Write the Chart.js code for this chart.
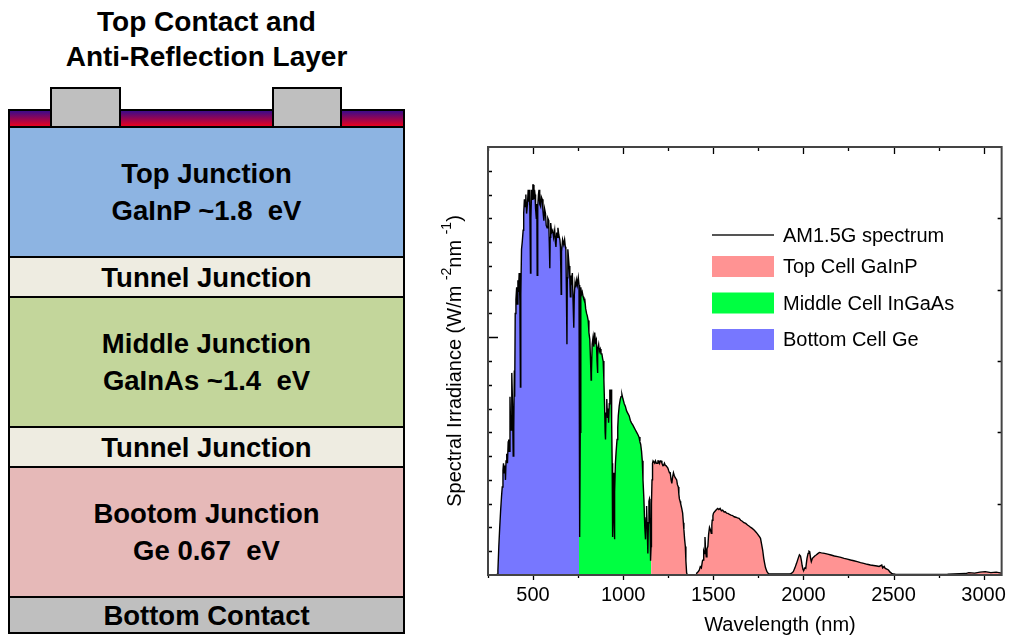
<!DOCTYPE html>
<html lang="en">
<head>
<meta charset="UTF-8">
<title>Triple-junction cell and AM1.5G spectrum</title>
<script src="https://cdn.jsdelivr.net/npm/chart.js"></script>
<style>
  body { margin: 0; width: 1014px; height: 636px; position: relative; background: #fff; overflow: hidden;
         font-family: "Liberation Sans", Arial, sans-serif; color: #000; }
  .cap { position: absolute; left: 8px; width: 397px; top: 4px; text-align: center;
         font-weight: bold; font-size: 28px; line-height: 35px; }
  .layer { position: absolute; left: 8px; width: 397px; box-sizing: border-box; border: 2px solid #000;
           display: flex; flex-direction: column; align-items: center; justify-content: center;
           font-weight: bold; font-size: 27.5px; line-height: 37px; white-space: pre; }
  .ar { top: 109px; height: 19px; background: linear-gradient(#3c0a8a, #e8001e); }
  .contact { position: absolute; top: 87px; height: 41px; box-sizing: border-box;
             border: 2px solid #000; background: #bfbfbf; }
  #chartBox { position: absolute; left: 430px; top: 125px; width: 584px; height: 511px; }
</style>
</head>
<body>
  <div class="cap">Top Contact and<br>Anti-Reflection Layer</div>

  <div class="layer ar"></div>
  <div class="contact" style="left:50px; width:71px;"></div>
  <div class="contact" style="left:272px; width:70px;"></div>

  <div class="layer" style="top:126px; height:132px; background:#8db4e2;"><div>Top Junction</div><div>GaInP ~1.8  eV</div></div>
  <div class="layer" style="top:256px; height:42px; background:#eeece1;"><div>Tunnel Junction</div></div>
  <div class="layer" style="top:296px; height:132px; background:#c3d69b;"><div>Middle Junction</div><div>GaInAs ~1.4  eV</div></div>
  <div class="layer" style="top:426px; height:42px; background:#eeece1;"><div>Tunnel Junction</div></div>
  <div class="layer" style="top:466px; height:132px; background:#e6b9b8;"><div>Bootom Junction</div><div>Ge 0.67  eV</div></div>
  <div class="layer" style="top:596px; height:38px; background:#bfbfbf;"><div>Bottom Contact</div></div>

  <div id="chartBox"><canvas id="spectrum" width="584" height="511"></canvas></div>

<script>
// AM1.5G spectral irradiance, W/m^2/nm
const wavelengthNm = [
  250, 290, 300, 305, 310, 315, 320, 325, 329, 333,
  336, 340, 344, 347, 350, 354, 358, 362, 365, 368,
  372, 375, 378, 381, 383, 386, 390, 393, 396, 398,
  401, 405, 409, 412, 416, 419, 423, 427, 430, 432,
  436, 440, 445, 448, 452, 456, 460, 464, 469, 473,
  476, 478, 482, 486, 488, 492, 496, 499, 502, 505,
  508, 511, 514, 518, 521, 523, 526, 530, 533, 537,
  542, 546, 551, 555, 560, 564, 569, 573, 578, 582,
  587, 590, 593, 595, 598, 603, 609, 614, 620, 624,
  627, 631, 634, 638, 643, 649, 652, 656, 658, 664,
  670, 675, 679, 682, 685, 688, 690, 693, 697, 700,
  704, 707, 710, 714, 718, 722, 726, 729, 733, 737,
  742, 746, 751, 755, 757, 759, 760, 762, 764, 766,
  769, 773, 778, 782, 787, 792, 797, 801, 806, 810,
  815, 819, 822, 824, 828, 833, 837, 842, 846, 851,
  855, 857, 860, 864, 868, 873, 877, 882, 886, 889,
  893, 897, 900, 902, 905, 909, 913, 917, 919, 923,
  926, 930, 933, 936, 939, 941, 942, 945, 948, 950,
  951, 954, 957, 961, 966, 970, 973, 978, 984, 988,
  993, 999, 1006, 1012, 1019, 1026, 1033, 1040, 1046, 1054,
  1061, 1068, 1075, 1082, 1088, 1093, 1097, 1102, 1106, 1110,
  1115, 1120, 1124, 1127, 1130, 1134, 1137, 1140, 1143, 1146,
  1148, 1150, 1152, 1155, 1157, 1160, 1163, 1166, 1170, 1175,
  1179, 1184, 1188, 1193, 1197, 1202, 1206, 1210, 1215, 1220,
  1224, 1229, 1234, 1238, 1243, 1248, 1252, 1257, 1261, 1266,
  1270, 1274, 1279, 1283, 1288, 1292, 1297, 1301, 1306, 1309,
  1312, 1316, 1319, 1325, 1330, 1334, 1337, 1341, 1345, 1348,
  1352, 1356, 1405, 1410, 1416, 1422, 1428, 1434, 1440, 1443,
  1447, 1451, 1454, 1457, 1461, 1465, 1470, 1474, 1479, 1484,
  1489, 1492, 1494, 1498, 1501, 1506, 1512, 1518, 1525, 1531,
  1538, 1545, 1552, 1560, 1567, 1574, 1581, 1590, 1598, 1607,
  1616, 1625, 1634, 1643, 1652, 1661, 1670, 1680, 1690, 1700,
  1708, 1716, 1725, 1734, 1743, 1750, 1757, 1762, 1768, 1774,
  1780, 1785, 1790, 1798, 1806, 1816, 1926, 1935, 1944, 1953,
  1962, 1971, 1978, 1984, 1989, 1993, 1998, 2002, 2008, 2013,
  2020, 2026, 2031, 2035, 2040, 2044, 2050, 2059, 2066, 2071,
  2080, 2089, 2100, 2117, 2135, 2153, 2172, 2190, 2208, 2226,
  2244, 2262, 2280, 2299, 2317, 2335, 2354, 2372, 2390, 2408,
  2420, 2435, 2440, 2448, 2454, 2463, 2472, 2481, 2490, 2500,
  2510, 2600, 2700, 2800, 2900, 2918, 2950, 2980, 3009, 3040,
  3070, 3100
];
const irradiance = [
  0, 0, 0.002, 0.02, 0.12, 0.2, 0.27, 0.33, 0.37, 0.44,
  0.47, 0.43, 0.46, 0.40, 0.48, 0.51, 0.47, 0.56, 0.57, 0.52,
  0.75, 0.64, 0.61, 0.78, 0.85, 0.72, 0.50, 0.62, 0.86, 0.75,
  1.10, 1.16, 1.21, 1.14, 1.24, 1.19, 1.27, 1.15, 0.79, 1.18,
  1.37, 1.40, 1.45, 1.52, 1.58, 1.55, 1.60, 1.52, 1.56, 1.62,
  1.57, 1.62, 1.55, 1.27, 1.50, 1.62, 1.58, 1.64, 1.64, 1.58,
  1.62, 1.60, 1.54, 1.50, 1.56, 1.26, 1.55, 1.60, 1.62, 1.56,
  1.55, 1.59, 1.58, 1.53, 1.49, 1.54, 1.52, 1.47, 1.46, 1.50,
  1.49, 1.40, 1.29, 1.42, 1.48, 1.44, 1.45, 1.42, 1.45, 1.40,
  1.38, 1.44, 1.42, 1.46, 1.43, 1.41, 1.38, 1.18, 1.36, 1.41,
  1.39, 1.41, 1.38, 1.37, 1.20, 0.97, 1.25, 1.37, 1.33, 1.30,
  1.25, 1.17, 1.26, 1.24, 1.27, 1.15, 1.04, 1.18, 1.23, 1.21,
  1.24, 1.22, 1.25, 1.22, 1.21, 0.40, 0.16, 0.60, 1.10, 1.21,
  1.18, 1.19, 1.17, 1.16, 1.16, 1.12, 1.10, 1.09, 1.07, 1.02,
  0.99, 0.90, 0.82, 0.85, 0.97, 1.00, 0.96, 1.02, 0.98, 0.99,
  0.90, 0.85, 0.95, 0.97, 0.94, 0.95, 0.93, 0.93, 0.91, 0.90,
  0.82, 0.71, 0.60, 0.57, 0.68, 0.74, 0.66, 0.70, 0.64, 0.72,
  0.78, 0.76, 0.78, 0.65, 0.47, 0.25, 0.16, 0.30, 0.43, 0.25,
  0.15, 0.35, 0.47, 0.52, 0.57, 0.62, 0.67, 0.71, 0.74, 0.75,
  0.76, 0.74, 0.72, 0.71, 0.69, 0.68, 0.67, 0.65, 0.64, 0.63,
  0.62, 0.61, 0.60, 0.59, 0.58, 0.56, 0.55, 0.52, 0.48, 0.40,
  0.32, 0.20, 0.15, 0.24, 0.29, 0.18, 0.09, 0.22, 0.31, 0.32,
  0.31, 0.18, 0.06, 0.12, 0.30, 0.40, 0.47, 0.48, 0.48, 0.47,
  0.48, 0.47, 0.47, 0.48, 0.48, 0.47, 0.48, 0.48, 0.47, 0.46,
  0.46, 0.47, 0.46, 0.46, 0.46, 0.45, 0.44, 0.43, 0.43, 0.40,
  0.385, 0.41, 0.43, 0.42, 0.41, 0.41, 0.40, 0.38, 0.37, 0.34,
  0.32, 0.31, 0.30, 0.28, 0.26, 0.22, 0.19, 0.15, 0.12, 0.06,
  0.01, 0, 0, 0.01, 0.014, 0.02, 0.035, 0.03, 0.06, 0.063,
  0.10, 0.09, 0.16, 0.11, 0.077, 0.11, 0.12, 0.17, 0.20, 0.19,
  0.175, 0.21, 0.23, 0.25, 0.26, 0.265, 0.27, 0.275, 0.28, 0.275,
  0.28, 0.27, 0.273, 0.265, 0.266, 0.26, 0.259, 0.255, 0.252, 0.25,
  0.245, 0.243, 0.24, 0.238, 0.23, 0.226, 0.22, 0.217, 0.21, 0.205,
  0.2, 0.196, 0.19, 0.183, 0.175, 0.168, 0.16, 0.154, 0.13, 0.105,
  0.07, 0.049, 0.03, 0.014, 0.006, 0.004, 0.004, 0.008, 0.014, 0.03,
  0.049, 0.07, 0.085, 0.08, 0.06, 0.04, 0.022, 0.021, 0.03, 0.028,
  0.07, 0.091, 0.1, 0.098, 0.07, 0.056, 0.07, 0.077, 0.082, 0.084,
  0.09, 0.095, 0.093, 0.091, 0.088, 0.084, 0.08, 0.077, 0.074, 0.07,
  0.067, 0.063, 0.06, 0.056, 0.052, 0.049, 0.045, 0.042, 0.04, 0.038,
  0.036, 0.042, 0.03, 0.036, 0.028, 0.025, 0.021, 0.012, 0.007, 0.004,
  0.003, 0.002, 0.002, 0.003, 0.006, 0.01, 0.008, 0.012, 0.014, 0.01,
  0.012, 0.008
];

// absorption bands (nm) with their legend labels and fill colours
const bandLabels = ['Top Cell GaInP', 'Middle Cell InGaAs', 'Bottom Cell Ge'];
const bandColors = ['#ff9393', '#00ff41', '#7777ff'];
const bandFrom = [1155, 755, 250];
const bandTo = [3100, 1155, 755];

const xLabelTicks = [500, 1000, 1500, 2000, 2500, 3000];
const xMinorTicks = [250, 750, 1250, 1750, 2250, 2750];
const yLeftTicks = [0.1, 0.2, 0.3, 0.4, 0.5, 0.6, 0.7, 0.8, 0.9, 1.0, 1.1, 1.2, 1.3, 1.4, 1.5, 1.6, 1.7];
const yLeftMajor = [1.0];
const yRightTicks = [0.3, 0.6, 0.9, 1.2, 1.5];

const points = wavelengthNm.map((w, i) => ({ x: w, y: irradiance[i] }));

const datasets = [{
  label: 'AM1.5G spectrum',
  data: points,
  borderColor: '#000',
  borderWidth: 1.4,
  pointRadius: 0,
  fill: false
}];
bandLabels.forEach((label, i) => {
  datasets.push({
    label: label,
    data: points.filter(p => p.x >= bandFrom[i] && p.x <= bandTo[i]),
    backgroundColor: bandColors[i],
    borderWidth: 0,
    pointRadius: 0,
    fill: 'origin'
  });
});

const FONT = '"Liberation Sans", Arial, sans-serif';

// frame, inward ticks and both axis titles
const framePlugin = {
  id: 'frame',
  afterDraw(chart) {
    const { ctx, chartArea: a, scales: { x, y } } = chart;
    ctx.save();
    ctx.strokeStyle = '#000';
    ctx.lineWidth = 1.3;
    ctx.beginPath();
    xLabelTicks.concat(xMinorTicks).forEach(w => {
      const px = Math.round(x.getPixelForValue(w)) + 0.5;
      const major = xLabelTicks.includes(w);
      ctx.moveTo(px, a.top); ctx.lineTo(px, a.top + (major ? 7 : 4));
      ctx.moveTo(px, a.bottom); ctx.lineTo(px, a.bottom + (major ? 5 : 3));
    });
    yLeftTicks.forEach(v => {
      const py = Math.round(y.getPixelForValue(v)) + 0.5;
      ctx.moveTo(a.left, py); ctx.lineTo(a.left + (yLeftMajor.includes(v) ? 10 : 4), py);
    });
    yRightTicks.forEach(v => {
      const py = Math.round(y.getPixelForValue(v)) + 0.5;
      ctx.moveTo(a.right, py); ctx.lineTo(a.right - 4, py);
    });
    ctx.stroke();

    ctx.strokeStyle = '#444';
    ctx.lineWidth = 2;
    ctx.strokeRect(a.left, a.top, a.right - a.left, a.bottom - a.top);

    ctx.fillStyle = '#000';
    ctx.textBaseline = 'middle';

    // x title, sits right of the plot centre
    ctx.font = '20px ' + FONT;
    ctx.textAlign = 'center';
    ctx.fillText('Wavelength (nm)', a.left + 292, a.bottom + 50);

    // y title with superscript exponents
    ctx.textAlign = 'left';
    const parts = [['Spectral Irradiance (W/m ', 20, 0], ['-2', 14, -8], ['nm ', 20, 0], ['-1', 14, -8], [')', 20, 0]];
    let total = 0;
    parts.forEach(p => { ctx.font = p[1] + 'px ' + FONT; total += ctx.measureText(p[0]).width; });
    ctx.translate(a.left - 33, (a.top + a.bottom) / 2);
    ctx.rotate(-Math.PI / 2);
    let cx = -total / 2;
    parts.forEach(p => {
      ctx.font = p[1] + 'px ' + FONT;
      ctx.fillText(p[0], cx, p[2]);
      cx += ctx.measureText(p[0]).width;
    });
    ctx.restore();
  }
};

// legend inside the plot area
const legendPlugin = {
  id: 'insideLegend',
  afterDatasetsDraw(chart) {
    const { ctx, chartArea: a } = chart;
    const x0 = a.left + 224, w = 62;
    const rows = [88, 119.5, 156, 192.5];
    ctx.save();
    ctx.font = '20px ' + FONT;
    ctx.textBaseline = 'middle';
    chart.data.datasets.forEach((ds, i) => {
      const yc = a.top + rows[i];
      if (i === 0) {
        ctx.strokeStyle = '#555';
        ctx.lineWidth = 2;
        ctx.beginPath(); ctx.moveTo(x0, yc); ctx.lineTo(x0 + w, yc); ctx.stroke();
      } else {
        ctx.fillStyle = ds.backgroundColor;
        ctx.fillRect(x0, yc - 10.5, w, 21);
      }
      ctx.fillStyle = '#000';
      ctx.fillText(ds.label, x0 + w + 9, yc + 1);
    });
    ctx.restore();
  }
};

new Chart(document.getElementById('spectrum'), {
  type: 'line',
  data: { datasets: datasets },
  options: {
    responsive: false,
    animation: false,
    events: [],
    layout: { padding: { top: 22, right: 4, left: 0, bottom: 0 } },
    plugins: { legend: { display: false }, tooltip: { enabled: false } },
    elements: { line: { tension: 0 } },
    scales: {
      x: {
        type: 'linear',
        min: 250,
        max: 3100,
        grid: { display: false, drawTicks: false },
        border: { display: false },
        afterBuildTicks: s => { s.ticks = xLabelTicks.map(v => ({ value: v })); },
        ticks: {
          autoSkip: false,
          maxRotation: 0,
          padding: 8,
          color: '#000',
          font: { family: FONT, size: 20 },
          callback: v => String(v)
        },
        afterFit: s => { s.height = 61; }
      },
      y: {
        min: 0,
        max: 1.8,
        grid: { display: false, drawTicks: false },
        border: { display: false },
        ticks: { display: false },
        afterFit: s => { s.width = 58; }
      }
    }
  },
  plugins: [framePlugin, legendPlugin]
});
</script>
</body>
</html>
